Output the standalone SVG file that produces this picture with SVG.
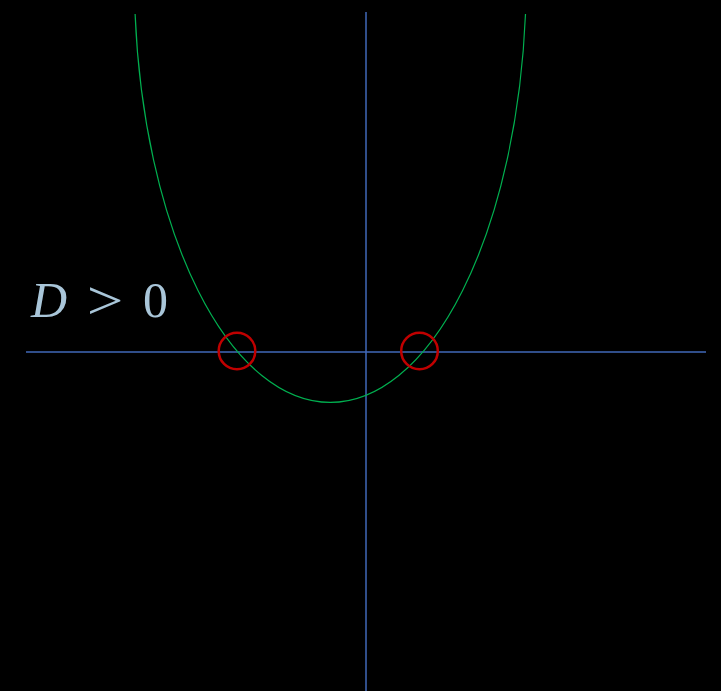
<svg xmlns="http://www.w3.org/2000/svg" width="721" height="691" viewBox="0 0 721 691">
<style>
.axis{stroke:#4169b8;stroke-width:1.5;fill:none}
.curve{stroke:#00b050;stroke-width:1.2;fill:none}
.root{stroke:#c00000;stroke-width:2.5;fill:none}
.lbl{font-family:"Liberation Serif","DejaVu Serif",serif;font-size:50px;fill:#a9c6d9}
</style>
<rect x="0" y="0" width="721" height="691" fill="#000"/>
<g id="axes">
<line class="axis" x1="26" y1="352" x2="706" y2="352"/>
<line class="axis" x1="366" y1="12" x2="366" y2="691"/>
</g>
<g id="curve">
<path class="curve" d="M135.1 14 A196 427 0 0 0 525.5 14"/>
</g>
<g id="roots">
<circle class="root" cx="237" cy="351" r="18.3"/>
<circle class="root" cx="419.5" cy="351" r="18.3"/>
</g>
<g id="label">
<text class="lbl" x="31" y="317" font-style="italic">D</text>
<text class="lbl" x="0" y="0" text-anchor="middle" transform="translate(105,319) scale(1.3,1.1)">&gt;</text>
<text class="lbl" x="155.5" y="317" text-anchor="middle">0</text>
</g>
</svg>
